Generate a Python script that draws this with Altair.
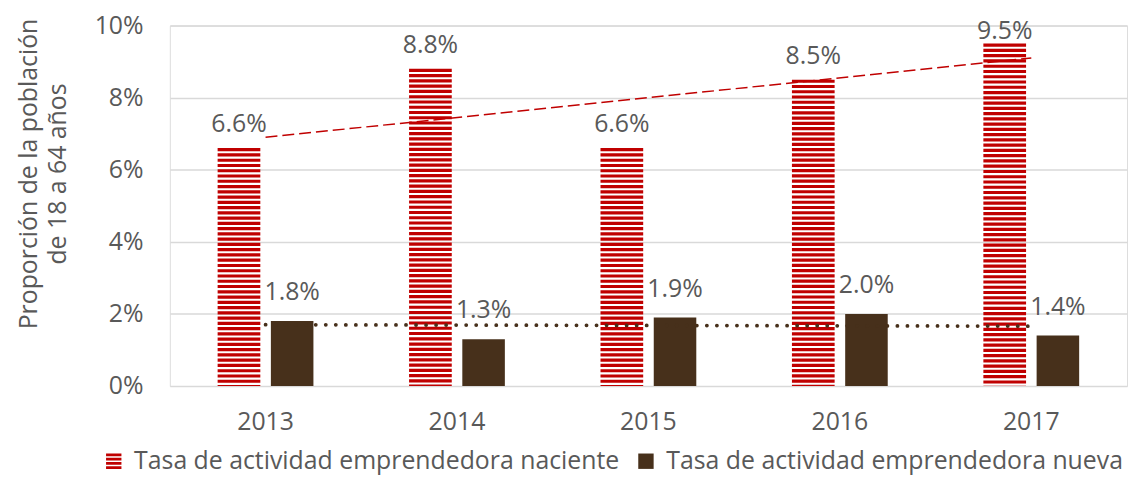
import altair as alt
import pandas as pd

years = [2013, 2014, 2015, 2016, 2017]
naciente = [6.6, 8.8, 6.6, 8.5, 9.5]
nueva = [1.8, 1.3, 1.9, 2.0, 1.4]
series_names = ["Tasa de actividad emprendedora naciente",
                "Tasa de actividad emprendedora nueva"]
y_ticks = [0, 2, 4, 6, 8, 10]
y_title = ["Proporción de la población", "de 18 a 64 años"]

RED = "#c00000"
BROWN = "#47301b"
GREY = "#595959"
GRID = "#d9d9d9"
FONT = "Open Sans"
FS = 25
STRIPES = "M-1,-1H1V-0.65H-1Z M-1,-0.45H1V-0.1H-1Z M-1,0.1H1V0.45H-1Z M-1,0.65H1V1H-1Z"

rows = []
for yr, a, b in zip(years, naciente, nueva):
    rows.append({"year": yr, "series": series_names[0], "value": a})
    rows.append({"year": yr, "series": series_names[1], "value": b})
df = pd.DataFrame(rows)

base = alt.Chart(df)

x_enc = alt.X("year:O",
              scale=alt.Scale(paddingInner=0.5, paddingOuter=0.25),
              axis=alt.Axis(title=None, labelAngle=0, ticks=False, domain=False,
                            labelFont=FONT, labelFontSize=FS, labelColor=GREY,
                            labelPadding=24))
xo_enc = alt.XOffset("series:N",
                     scale=alt.Scale(domain=series_names, paddingInner=0.2, paddingOuter=0))
y_enc = alt.Y("value:Q",
              scale=alt.Scale(domain=[0, 10], nice=False),
              axis=alt.Axis(values=y_ticks, labelExpr="datum.value + '%'",
                            title=y_title, grid=True, gridColor=GRID, gridWidth=1.5,
                            domain=False, ticks=False,
                            labelFont=FONT, labelFontSize=FS, labelColor=GREY,
                            labelPadding=27, titleFont=FONT, titleFontSize=FS,
                            titleFontWeight="normal", titleColor=GREY,
                            titlePadding=24, titleLineHeight=29, titleY=149))

rule = base.transform_filter(alt.datum.series == series_names[0]).mark_rule(
    color=RED, strokeWidth=43, strokeDash=[3.2, 2.1], strokeCap="butt"
).encode(x=x_enc, xOffset=xo_enc, y=y_enc, y2=alt.datum(0))

bars = base.transform_filter(alt.datum.series == series_names[1]).mark_bar(
    color=BROWN
).encode(x=x_enc, xOffset=xo_enc, y=y_enc)

labels = base.transform_calculate(
    label="format(datum.value, '.1f') + '%'",
    ly="min(datum.value + (datum.series == '" + series_names[0] + "' ? 0.66 : 0.8), 9.84)",
).mark_text(font=FONT, fontSize=FS, color=GREY, baseline="middle").encode(
    x=x_enc, xOffset=xo_enc, y=alt.Y("ly:Q"), text="label:N")

trend_a = base.transform_filter(alt.datum.series == series_names[0]).transform_regression(
    "year", "value"
).mark_line(color=RED, strokeDash=[12, 5], strokeWidth=1.5).encode(
    x=alt.X("year:O"), y=alt.Y("value:Q"))

trend_b = base.transform_filter(alt.datum.series == series_names[1]).transform_regression(
    "year", "value"
).mark_line(color=BROWN, strokeDash=[0.1, 10], strokeCap="round", strokeWidth=3.8).encode(
    x=alt.X("year:O"), y=alt.Y("value:Q"))

leg = alt.Legend(orient="none", legendX=-69, legendY=426, direction="horizontal",
                 title=None, labelFont=FONT, labelFontSize=FS, labelColor=GREY,
                 symbolSize=240, symbolStrokeWidth=0, columnPadding=14,
                 labelLimit=0, labelOffset=8)

legend_layer = base.transform_filter("false").mark_point(filled=True, opacity=1).encode(
    color=alt.Color("series:N", scale=alt.Scale(domain=series_names, range=[RED, BROWN]), legend=leg),
    shape=alt.Shape("series:N", scale=alt.Scale(domain=series_names, range=[STRIPES, "square"]), legend=leg),
)

chart = alt.layer(rule, bars, trend_a, trend_b, labels, legend_layer).properties(
    width=964, height=363,
    autosize=alt.AutoSizeParams(type="none"),
    padding={"left": 163, "top": 16, "right": 3, "bottom": 95},
).configure_view(stroke=None).configure(background="white")

chart.save("out.html", embed_options={"renderer": "svg", "actions": False})
